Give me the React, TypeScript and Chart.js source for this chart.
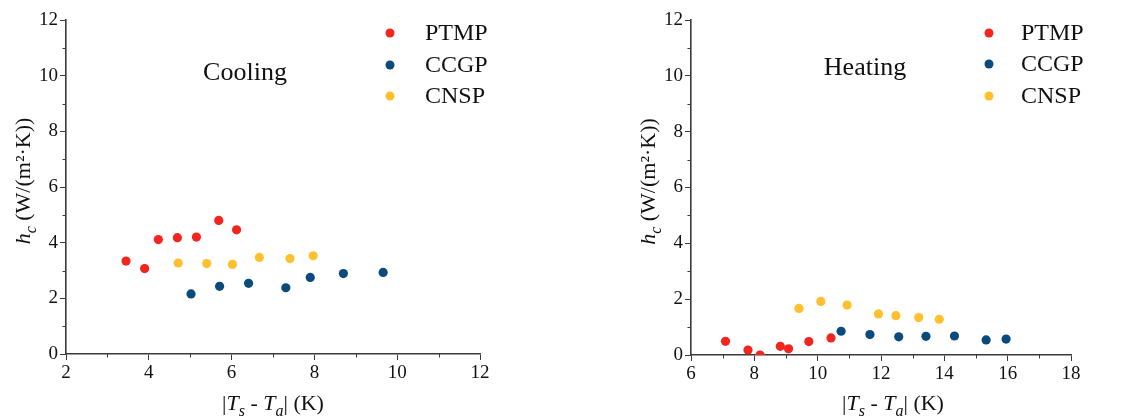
import React, { useEffect, useRef } from 'react';
import { Chart, registerables } from 'chart.js';

Chart.register(...registerables);

const seriesNames = ['PTMP', 'CCGP', 'CNSP'];
const seriesColors = ['#F2251F', '#0B4A7C', '#FFC02E'];

// Cooling
const coolPTMPx = [3.45, 3.90, 4.23, 4.69, 5.15, 5.69, 6.12];
const coolPTMPy = [3.34, 3.07, 4.11, 4.18, 4.20, 4.80, 4.46];
const coolCCGPx = [5.02, 5.71, 6.41, 7.31, 7.90, 8.70, 9.66];
const coolCCGPy = [2.16, 2.43, 2.54, 2.38, 2.75, 2.89, 2.93];
const coolCNSPx = [4.71, 5.40, 6.02, 6.67, 7.41, 7.97];
const coolCNSPy = [3.27, 3.25, 3.22, 3.47, 3.43, 3.53];

// Heating
const heatPTMPx = [7.09, 7.80, 8.18, 8.82, 9.08, 9.72, 10.42];
const heatPTMPy = [0.49, 0.18, 0.0, 0.31, 0.22, 0.48, 0.61];
const heatCCGPx = [10.74, 11.65, 12.56, 13.42, 14.32, 15.32, 15.95];
const heatCCGPy = [0.85, 0.73, 0.65, 0.67, 0.68, 0.54, 0.57];
const heatCNSPx = [9.41, 10.10, 10.93, 11.92, 12.47, 13.19, 13.84];
const heatCNSPy = [1.67, 1.92, 1.79, 1.47, 1.41, 1.34, 1.28];

const yTicksMin = 0;
const yTicksMax = 12;
const coolXRange = [2, 12];
const heatXRange = [6, 18];

const FONT = '"Liberation Serif", "Times New Roman", serif';
const AXIS_COLOR = '#3a3a3a';

type Seg = { t: string; it?: boolean; sub?: boolean };

const yTitle: Seg[] = [
  { t: 'h', it: true },
  { t: 'c', it: true, sub: true },
  { t: ' (W/(m²·K))' },
];
const xTitle: Seg[] = [
  { t: '|' },
  { t: 'T', it: true },
  { t: 's', it: true, sub: true },
  { t: ' - ' },
  { t: 'T', it: true },
  { t: 'a', it: true, sub: true },
  { t: '| (K)' },
];

function segFont(s: Seg, size: number) {
  const sz = s.sub ? Math.round(size * 0.72) : size;
  return `${s.it ? 'italic ' : ''}${sz}px ${FONT}`;
}

function drawRich(ctx: CanvasRenderingContext2D, segs: Seg[], cx: number, cy: number, size: number) {
  let total = 0;
  for (const s of segs) {
    ctx.font = segFont(s, size);
    total += ctx.measureText(s.t).width;
  }
  let x = cx - total / 2;
  ctx.textBaseline = 'alphabetic';
  ctx.textAlign = 'left';
  for (const s of segs) {
    ctx.font = segFont(s, size);
    ctx.fillText(s.t, x, cy + (s.sub ? size * 0.28 : 0));
    x += ctx.measureText(s.t).width;
  }
}

const decorPlugin = {
  id: 'decor',
  afterDraw(chart: any) {
    const o = chart.options.plugins.decor;
    if (!o) return;
    const ctx = chart.ctx as CanvasRenderingContext2D;
    const area = chart.chartArea;
    const xs = chart.scales.x;
    const ys = chart.scales.y;
    ctx.save();
    // minor ticks
    ctx.strokeStyle = AXIS_COLOR;
    ctx.lineWidth = 1;
    ctx.beginPath();
    for (let v = xs.min + 1; v < xs.max; v += 2) {
      const px = Math.round(xs.getPixelForValue(v)) + 0.5;
      ctx.moveTo(px, area.bottom);
      ctx.lineTo(px, area.bottom + 3.5);
    }
    for (let v = ys.min + 1; v < ys.max; v += 2) {
      const py = Math.round(ys.getPixelForValue(v)) + 0.5;
      ctx.moveTo(area.left, py);
      ctx.lineTo(area.left - 3.5, py);
    }
    ctx.stroke();

    ctx.fillStyle = '#111';
    // x title
    drawRich(ctx, xTitle, (area.left + area.right) / 2 + o.xTitleShift, o.xTitleY, 22);
    // y title
    ctx.save();
    ctx.translate(area.left - 36, (area.top + area.bottom) / 2 - 6);
    ctx.rotate(-Math.PI / 2);
    drawRich(ctx, yTitle, 0, 0, 22);
    ctx.restore();

    // annotation
    ctx.font = `26px ${FONT}`;
    ctx.textAlign = 'center';
    ctx.textBaseline = 'middle';
    ctx.fillText(o.label, o.labelX, o.labelY);

    // legend
    ctx.font = `24px ${FONT}`;
    ctx.textAlign = 'left';
    ctx.textBaseline = 'middle';
    chart.data.datasets.forEach((ds: any, i: number) => {
      const y = o.legendY[i];
      ctx.fillStyle = ds.backgroundColor;
      ctx.beginPath();
      ctx.arc(o.legendMarkerX, y, 4.5, 0, Math.PI * 2);
      ctx.fill();
      ctx.fillStyle = '#111';
      ctx.fillText(ds.label, o.legendTextX, y + 1);
    });
    ctx.restore();
  },
};

type PanelProps = {
  width: number;
  height: number;
  xs: number[][];
  ys: number[][];
  xRange: number[];
  leftW: number;
  rightPad: number;
  bottomH: number;
  decor: any;
};

function Panel(props: PanelProps) {
  const ref = useRef<HTMLCanvasElement | null>(null);
  useEffect(() => {
    if (!ref.current) return;
    const datasets = seriesNames.map((name, i) => ({
      label: name,
      data: props.xs[i].map((x, j) => ({ x, y: props.ys[i][j] })),
      backgroundColor: seriesColors[i],
      borderColor: seriesColors[i],
      borderWidth: 0,
      pointRadius: 4.6,
      pointHoverRadius: 4.6,
      showLine: false,
    }));
    const tickFont = { family: FONT, size: 19 };
    const chart = new Chart(ref.current, {
      type: 'scatter',
      data: { datasets },
      plugins: [decorPlugin],
      options: {
        responsive: false,
        animation: false,
        devicePixelRatio: 1,
        layout: { padding: { left: 0, right: props.rightPad, top: 20, bottom: 0 } },
        plugins: {
          legend: { display: false },
          tooltip: { enabled: false },
          decor: props.decor,
        } as any,
        scales: {
          x: {
            type: 'linear',
            min: props.xRange[0],
            max: props.xRange[1],
            ticks: { stepSize: 2, color: '#111', font: tickFont, padding: 2, maxRotation: 0 },
            grid: { drawOnChartArea: false, drawTicks: true, tickLength: 6, color: AXIS_COLOR, lineWidth: 1 },
            border: { display: true, color: AXIS_COLOR, width: 1.6 },
            afterFit: (s: any) => { s.height = props.bottomH; },
          },
          y: {
            type: 'linear',
            min: yTicksMin,
            max: yTicksMax,
            ticks: { stepSize: 2, color: '#111', font: tickFont, padding: 2 },
            grid: { drawOnChartArea: false, drawTicks: true, tickLength: 6, color: AXIS_COLOR, lineWidth: 1 },
            border: { display: true, color: AXIS_COLOR, width: 1.6 },
            afterFit: (s: any) => { s.width = props.leftW; },
          },
        },
      } as any,
    });
    return () => chart.destroy();
  }, []);
  return <canvas ref={ref} width={props.width} height={props.height} style={{ display: 'block' }} />;
}

export default function App() {
  return (
    <div style={{ position: 'absolute', left: 0, top: 0, width: 1131, height: 418, background: '#fff', display: 'flex' }}>
      <Panel
        width={560}
        height={418}
        xs={[coolPTMPx, coolCCGPx, coolCNSPx]}
        ys={[coolPTMPy, coolCCGPy, coolCNSPy]}
        xRange={coolXRange}
        leftW={66}
        rightPad={80}
        bottomH={64}
        decor={{
          label: 'Cooling',
          labelX: 245,
          labelY: 73,
          legendMarkerX: 390,
          legendTextX: 425,
          legendY: [33, 65, 96],
          xTitleY: 410,
          xTitleShift: 0,
        }}
      />
      <Panel
        width={571}
        height={418}
        xs={[heatPTMPx, heatCCGPx, heatCNSPx]}
        ys={[heatPTMPy, heatCCGPy, heatCNSPy]}
        xRange={heatXRange}
        leftW={131}
        rightPad={60}
        bottomH={63}
        decor={{
          label: 'Heating',
          labelX: 305,
          labelY: 68,
          legendMarkerX: 429,
          legendTextX: 461,
          legendY: [33, 64, 96],
          xTitleY: 410,
          xTitleShift: 12,
        }}
      />
    </div>
  );
}
